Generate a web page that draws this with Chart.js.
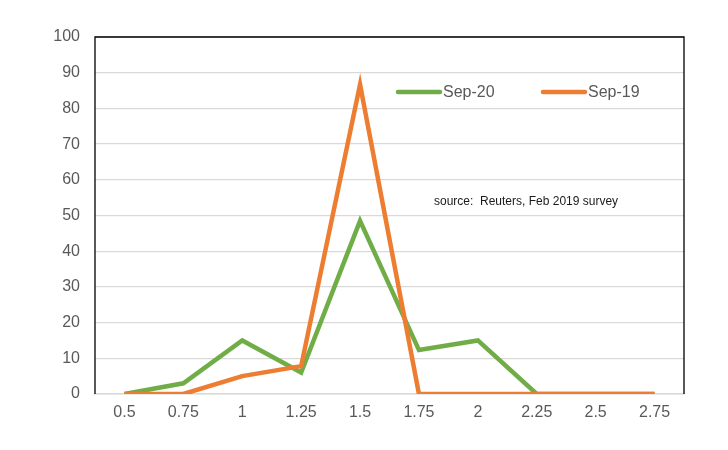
<!DOCTYPE html>
<html>
<head>
<meta charset="utf-8">
<script src="https://cdn.jsdelivr.net/npm/chart.js@4/dist/chart.umd.min.js"></script>
<style>
  html, body { margin: 0; padding: 0; background: #fff; }
  #wrap { width: 728px; height: 450px; }
</style>
</head>
<body>
<div id="wrap"><canvas id="chart" width="728" height="450"></canvas></div>
<script>
// rate levels (x axis) and share of respondents per survey horizon
const rates = ['0.5', '0.75', '1', '1.25', '1.5', '1.75', '2', '2.25', '2.5', '2.75'];
const sep20 = [0, 3, 15, 6, 48.5, 12.3, 15, 0, 0, 0];
const sep19 = [0, 0, 5, 7.8, 86.7, 0, 0, 0, 0, 0];
const seriesNames = ['Sep-20', 'Sep-19'];
const yTicks = [0, 10, 20, 30, 40, 50, 60, 70, 80, 90, 100];
const sourceNote = 'source:  Reuters, Feb 2019 survey';

const GREEN = '#70AD47';
const ORANGE = '#ED7D31';
const FONT = "'Liberation Sans', Arial, sans-serif";

// plot frame (top/right/left dark lines), legend and source note inside the plot
const overlay = {
  id: 'overlay',
  afterDraw(chart) {
    const { ctx, chartArea: a } = chart;
    ctx.save();
    ctx.strokeStyle = '#000';
    ctx.lineWidth = 1.3;
    ctx.beginPath();
    ctx.moveTo(a.left, a.bottom);
    ctx.lineTo(a.left, a.top);
    ctx.lineTo(a.right, a.top);
    ctx.lineTo(a.right, a.bottom);
    ctx.stroke();

    // legend
    const items = [
      { name: seriesNames[0], color: GREEN, x: 398 },
      { name: seriesNames[1], color: ORANGE, x: 543 },
    ];
    ctx.font = '16px ' + FONT;
    ctx.textBaseline = 'middle';
    ctx.textAlign = 'left';
    items.forEach((it) => {
      ctx.strokeStyle = it.color;
      ctx.lineWidth = 4.5;
      ctx.lineCap = 'round';
      ctx.beginPath();
      ctx.moveTo(it.x, 92);
      ctx.lineTo(it.x + 42, 92);
      ctx.stroke();
      ctx.fillStyle = '#595959';
      ctx.fillText(it.name, it.x + 45, 93);
    });

    ctx.font = '12px ' + FONT;
    ctx.fillStyle = '#1a1a1a';
    ctx.fillText(sourceNote, 434, 202);
    ctx.restore();
  },
};

new Chart(document.getElementById('chart'), {
  type: 'line',
  data: {
    labels: rates,
    datasets: [
      {
        label: seriesNames[0],
        data: sep20,
        borderColor: GREEN,
        backgroundColor: GREEN,
        borderWidth: 4.5,
        pointRadius: 0,
        tension: 0,
        order: 2,
      },
      {
        label: seriesNames[1],
        data: sep19,
        borderColor: ORANGE,
        backgroundColor: ORANGE,
        borderWidth: 4.5,
        pointRadius: 0,
        tension: 0,
        order: 1,
      },
    ],
  },
  options: {
    responsive: false,
    animation: false,
    devicePixelRatio: 1,
    layout: { padding: { top: 37, right: 44, left: 0, bottom: 0 } },
    plugins: {
      legend: { display: false },
      tooltip: { enabled: false },
    },
    scales: {
      x: {
        offset: true,
        grid: { display: false, drawTicks: false },
        border: { color: '#d9d9d9', width: 1.5 },
        ticks: {
          color: '#595959',
          font: { family: FONT, size: 16 },
          padding: 9,
          maxRotation: 0,
        },
        afterFit(scale) { scale.height = 56; },
      },
      y: {
        min: 0,
        max: 100,
        afterBuildTicks(scale) { scale.ticks = yTicks.map((v) => ({ value: v })); },
        grid: { color: '#d9d9d9', lineWidth: 1.3, drawTicks: false },
        border: { display: false },
        ticks: {
          color: '#595959',
          font: { family: FONT, size: 16 },
          padding: 15,
        },
        afterFit(scale) { scale.width = 95; },
      },
    },
  },
  plugins: [overlay],
});
</script>
</body>
</html>
